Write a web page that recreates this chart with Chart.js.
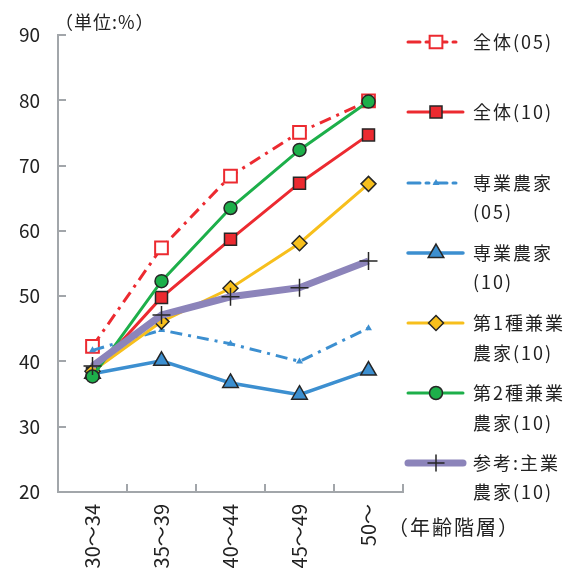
<!DOCTYPE html>
<html>
<head>
<meta charset="utf-8">
<script src="https://cdn.jsdelivr.net/npm/chart.js@4/dist/chart.umd.min.js"></script>
<style>
  html, body { margin: 0; padding: 0; background: #fff; }
  #wrap { width: 587px; height: 569px; position: relative; }
</style>
</head>
<body>
<div id="wrap"><canvas id="chart"></canvas></div>
<script>
// age groups on the x axis
const categories = ["30〜34", "35〜39", "40〜44", "45〜49", "50〜"];
const yTicks = [20, 30, 40, 50, 60, 70, 80, 90];

// series values (%)
const zentai05 = [42.3, 57.4, 68.4, 75.1, 79.9];
const zentai10 = [38.2, 49.8, 58.7, 67.3, 74.7];
const sengyo05 = [41.7, 44.8, 42.7, 40.0, 45.1];
const sengyo10 = [38.1, 40.1, 36.7, 34.9, 38.6];
const kengyo1 = [38.5, 46.1, 51.2, 58.1, 67.2];
const kengyo2 = [37.7, 52.3, 63.5, 72.4, 79.8];
const shugyo = [39.3, 47.1, 49.9, 51.3, 55.4];

const seriesNames = ["全体(05)", "全体(10)", "専業農家(05)", "専業農家(10)",
  "第1種兼業農家(10)", "第2種兼業農家(10)", "参考:主業農家(10)"];
// how the legend wraps each name
const legendLines = [["全体(05)"], ["全体(10)"], ["専業農家", "(05)"], ["専業農家", "(10)"],
  ["第1種兼業", "農家(10)"], ["第2種兼業", "農家(10)"], ["参考:主業", "農家(10)"]];

const unitLabel = "（単位:%）";
const xTitle = "（年齢階層）";

const FONT = "'Noto Sans CJK JP', 'Noto Sans', sans-serif";
const RED = "#ec2a30";
const BLUE = "#3c8fd0";
const YELLOW = "#f7bf1c";
const GREEN = "#1daf4a";
const PURPLE = "#8c84ba";
const DARK = "#262626";
const AXIS = "#a2a6aa";
const DASHDOT = [12, 6, 3, 6];

// legend rows (y of each text line)
const legendRows = [[42], [112], [183, 212], [253, 282], [323, 353], [393, 423], [463, 492]];

const extras = {
  id: "extras",
  afterDraw(chart) {
    const ctx = chart.ctx;
    const area = chart.chartArea;
    const xs = chart.scales.x;
    const ys = chart.scales.y;

    // inner tick marks
    ctx.save();
    ctx.strokeStyle = AXIS;
    ctx.lineWidth = 2;
    ctx.beginPath();
    yTicks.forEach((v) => {
      if (v === 20) return;
      const py = Math.round(ys.getPixelForValue(v));
      ctx.moveTo(area.left, py);
      ctx.lineTo(area.left + 8, py);
    });
    for (let k = 1; k <= categories.length; k++) {
      const px = Math.round(xs.getPixelForValue(k - 0.5));
      ctx.moveTo(px, area.bottom);
      ctx.lineTo(px, area.bottom - 8);
    }
    ctx.stroke();
    ctx.restore();

    // unit + axis title
    ctx.save();
    ctx.fillStyle = "#222";
    ctx.textBaseline = "middle";
    ctx.font = "18px " + FONT;
    ctx.letterSpacing = "1px";
    ctx.fillText(unitLabel, 55, 22);
    ctx.font = "20px " + FONT;
    ctx.letterSpacing = "2px";
    ctx.fillText(xTitle, 388, 527);
    ctx.restore();

    // legend
    chart.data.datasets.forEach((ds, i) => {
      const rows = legendRows[i];
      const y = rows[0];
      ctx.save();
      ctx.strokeStyle = ds.borderColor;
      ctx.lineWidth = ds.borderWidth;
      ctx.setLineDash(ds.borderDash || []);
      ctx.lineCap = "round";
      ctx.beginPath();
      ctx.moveTo(408, y);
      ctx.lineTo(ds.borderDash ? 457 : 463, y);
      ctx.stroke();
      ctx.setLineDash([]);
      ctx.fillStyle = ds.pointBackgroundColor;
      ctx.strokeStyle = ds.pointBorderColor;
      ctx.lineWidth = ds.pointBorderWidth;
      Chart.helpers.drawPoint(ctx, {
        pointStyle: ds.pointStyle,
        radius: ds.legendRadius || ds.pointRadius,
        rotation: 0,
        borderWidth: ds.pointBorderWidth
      }, 436, y);
      ctx.fillStyle = "#222";
      ctx.font = "18px " + FONT;
      ctx.textBaseline = "middle";
      ctx.letterSpacing = "2px";
      legendLines[i].forEach((t, j) => ctx.fillText(t, 473, rows[j]));
      ctx.restore();
    });
  }
};

const line = (label, data, o) => Object.assign({
  label, data,
  borderWidth: 3,
  pointBorderWidth: 1.5,
  pointBorderColor: DARK,
  tension: 0
}, o);

new Chart(document.getElementById("chart"), {
  type: "line",
  data: {
    labels: categories,
    datasets: [
      line(seriesNames[0], zentai05, { borderColor: RED, borderDash: DASHDOT, pointStyle: "rect",
        pointRadius: 9, pointBackgroundColor: "#fff", pointBorderColor: RED, pointBorderWidth: 2, order: 7 }),
      line(seriesNames[1], zentai10, { borderColor: RED, pointStyle: "rect",
        pointRadius: 8.5, pointBackgroundColor: RED, order: 4 }),
      line(seriesNames[2], sengyo05, { borderColor: BLUE, borderDash: DASHDOT, pointStyle: "triangle",
        pointRadius: 4, pointBackgroundColor: BLUE, pointBorderColor: BLUE, pointBorderWidth: 0, order: 6 }),
      line(seriesNames[3], sengyo10, { borderColor: BLUE, borderWidth: 3.5, pointStyle: "triangle",
        pointRadius: 9, pointBackgroundColor: BLUE, order: 5 }),
      line(seriesNames[4], kengyo1, { borderColor: YELLOW, pointStyle: "rectRot",
        pointRadius: 7.5, pointBackgroundColor: YELLOW, order: 3 }),
      line(seriesNames[5], kengyo2, { borderColor: GREEN, pointStyle: "circle",
        pointRadius: 6.5, pointBackgroundColor: GREEN, order: 2 }),
      line(seriesNames[6], shugyo, { borderColor: PURPLE, borderWidth: 7, pointStyle: "cross",
        pointRadius: 9, legendRadius: 8, pointBackgroundColor: DARK, order: 1 })
    ]
  },
  options: {
    responsive: true,
    maintainAspectRatio: false,
    animation: false,
    events: [],
    layout: { padding: { top: 35, right: 184, bottom: 0, left: 0 } },
    plugins: { legend: { display: false }, tooltip: { enabled: false } },
    scales: {
      x: {
        offset: true,
        grid: { drawOnChartArea: false, drawTicks: false },
        border: { color: AXIS, width: 2 },
        ticks: { color: "#222", font: { family: FONT, size: 20 }, minRotation: 90, maxRotation: 90, padding: 12 },
        afterFit: (s) => { s.height = 77; }
      },
      y: {
        min: 20,
        max: 90,
        grid: { drawOnChartArea: false, drawTicks: false },
        border: { color: AXIS, width: 2 },
        ticks: { stepSize: 10, color: "#222", font: { family: FONT, size: 19 }, padding: 18 },
        afterFit: (s) => { s.width = 58; }
      }
    }
  },
  plugins: [extras]
});
</script>
</body>
</html>
